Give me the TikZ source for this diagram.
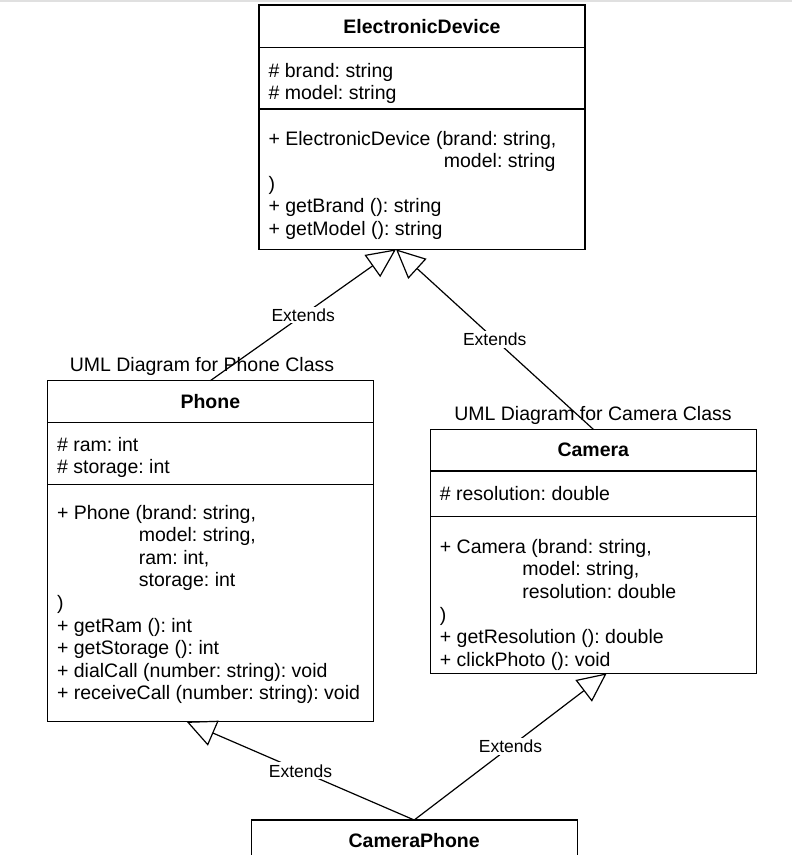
\documentclass[tikz,border=0pt]{standalone}
\usepackage{fontspec}
\setmainfont{Liberation Sans}
\usetikzlibrary{arrows.meta}
\usetikzlibrary{positioning}
\frenchspacing

\newcommand{\umlfont}{\fontsize{19.5}{22.6}\selectfont}
\newcommand{\extfont}{\fontsize{17.5}{20}\selectfont}

\begin{document}
\begin{tikzpicture}[x=1pt, y=-1pt, line width=1.2pt,
  part/.style={draw, outer sep=0, inner sep=0, minimum width=326pt, anchor=north},
  mem/.style={anchor=base west, inner sep=0, font=\umlfont},
  heading/.style={anchor=base, inner sep=0, font=\umlfont},
  inh/.style={-{Triangle[open, length=29pt, width=27pt]}},
  ext/.style={fill=white, inner sep=2pt, font=\extfont}]
\useasboundingbox (0,0) rectangle (792,855);
\fill[black!12] (0,0) rectangle (792,2);

% ElectronicDevice
\node[part, minimum height=42.7pt, font=\umlfont\bfseries] (ed-h) at (422,5) {ElectronicDevice};
\node[part, minimum height=61.3pt, below=0pt of ed-h] (ed-a) {};
\node[part, minimum height=140.3pt, below=0pt of ed-a] (ed-m) {};
\foreach \t [count=\i from 0] in {{\# brand: string}, {\# model: string}}
  \node[mem] at (268, 77.3+22.6*\i) {\t};
\foreach \x/\t [count=\i from 0] in {268/{+ ElectronicDevice (brand: string,}, 443.3/{model: string},
    268/{)}, 268/{+ getBrand (): string}, 268/{+ getModel (): string}}
  \node[mem] at (\x, 145+22.6*\i) {\t};

% Phone
\node[heading] (ph-t) at (202,371) {UML Diagram for Phone Class};
\node[part, minimum height=41.6pt, font=\umlfont\bfseries] (ph-h) at (210.3,380.7) {Phone};
\node[part, minimum height=62pt, below=0pt of ph-h] (ph-a) {};
\node[part, minimum height=237.4pt, below=0pt of ph-a] (ph-m) {};
\foreach \t [count=\i from 0] in {{\# ram: int}, {\# storage: int}}
  \node[mem] at (56.5, 451+22.6*\i) {\t};
\foreach \x/\t [count=\i from 0] in {56.5/{+ Phone (brand: string,}, 138.3/{model: string,},
    138.3/{ram: int,}, 138.3/{storage: int}, 56.5/{)}, 56.5/{+ getRam (): int},
    56.5/{+ getStorage (): int}, 56.5/{+ dialCall (number: string): void},
    56.5/{+ receiveCall (number: string): void}}
  \node[mem] at (\x, 519+22.6*\i) {\t};

% Camera
\node[heading] (cam-t) at (593,420.7) {UML Diagram for Camera Class};
\node[part, minimum height=41.7pt, font=\umlfont\bfseries] (cam-h) at (593.3,429.3) {Camera};
\node[part, minimum height=45.7pt, below=0pt of cam-h] (cam-a) {};
\node[part, minimum height=156.6pt, below=0pt of cam-a] (cam-m) {};
\node[mem] at (439.3,500) {\# resolution: double};
\foreach \x/\t [count=\i from 0] in {439.3/{+ Camera (brand: string,}, 521.7/{model: string,},
    521.7/{resolution: double}, 439.3/{)}, 439.3/{+ getResolution (): double},
    439.3/{+ clickPhoto (): void}}
  \node[mem] at (\x, 553.3+22.6*\i) {\t};

% CameraPhone
\node[part, minimum height=42pt, font=\umlfont\bfseries] (cp-h) at (414.2,820) {CameraPhone};

% inheritance
\coordinate (ed-in) at ([xshift=-26pt]ed-m.south);
\coordinate (ph-in) at ([xshift=-23.6pt]ph-m.south);
\coordinate (cam-in) at ([xshift=13.4pt]cam-m.south);
\draw[inh] (ph-h.north) -- node[ext]{Extends} (ed-in);
\draw[inh] (cam-h.north) -- node[ext]{Extends} (ed-in);
\draw[inh] (cp-h.north) -- node[ext]{Extends} (ph-in);
\draw[inh] (cp-h.north) -- node[ext]{Extends} (cam-in);
\end{tikzpicture}
\end{document}
